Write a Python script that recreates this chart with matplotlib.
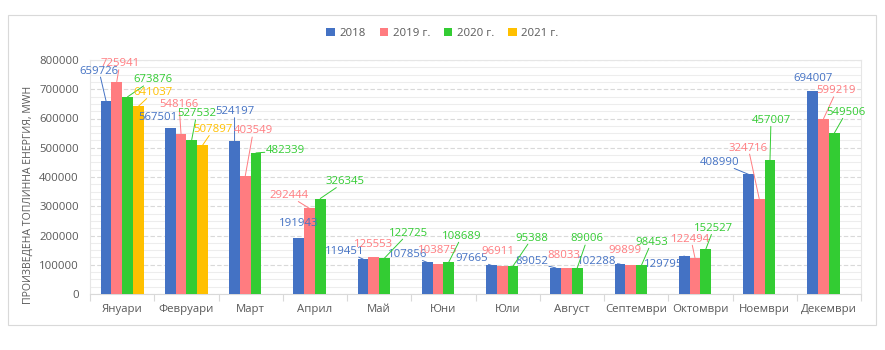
import numpy as np
import matplotlib
matplotlib.use('Agg')
import matplotlib.pyplot as plt
from matplotlib.patches import Rectangle
from matplotlib.ticker import MultipleLocator, FuncFormatter

plt.rcParams['font.family'] = ['Open Sans', 'DejaVu Sans']

# data
months = ['Януари', 'Февруари', 'Март', 'Април', 'Май', 'Юни', 'Юли',
          'Август', 'Септември', 'Октомври', 'Ноември', 'Декември']
v2018 = [659726, 567501, 524197, 191943, 119451, 107856, 97665, 89052,
         102288, 129795, 408990, 694007]
v2019 = [725941, 548166, 403549, 292444, 125553, 103875, 96911, 88033,
         99899, 122494, 324716, 599219]
v2020 = [673876, 527532, 482339, 326345, 122725, 108689, 95388, 89006,
         98453, 152527, 457007, 549506]
v2021 = [641037, 507897] + [np.nan] * 10
series_names = ['2018', '2019 г.', '2020 г.', '2021 г.']

# label placement (pixel offsets from bar top, like the manually moved excel labels)
off2018 = [(-7, 30), (-12, 11), (0, 29), (0, 14), (-18, 8), (-20, 8),
           (-20, 7), (-24, 6), (-23, 3), (-21, -8), (-29, 12), (0, 13)]
off2019 = [(3, 18), (-2, 29), (8, 45), (-21, 13), (0, 13), (0, 13),
           (-4, 14), (-3, 13), (-6, 14), (-4, 19), (-11, 51), (13, 28)]
off2020 = [(25, 17), (5, 26), (29, 2), (25, 17), (24, 25), (13, 26),
           (19, 28), (10, 29), (10, 23), (8, 21), (1, 40), (12, 21)]
off2021 = [(15, 14), (11, 16)] + [(0, 13)] * 10

colors = ['#4472C4', '#FF7C80', '#33CC33', '#FFC000']
grey = '#595959'
fs = 8.2

fig = plt.figure(figsize=(8.85, 3.5), dpi=100)
fig.add_artist(Rectangle((8 / 885, 25 / 350), 868 / 885, 310 / 350,
                         transform=fig.transFigure, fill=False,
                         ec='#D9D9D9', lw=0.8))
ax = fig.add_axes([90 / 885, 56 / 350, 771 / 885, 234 / 350])

x = np.arange(len(months))
w = 1 / 6
allvals = [v2018, v2019, v2020, v2021]
alloffs = [off2018, off2019, off2020, off2021]

for j, (name, vals, offs, c) in enumerate(zip(series_names, allvals, alloffs, colors)):
    pos = x + (j - 1.5) * w
    ax.bar(pos, vals, w, color=c, label=name, zorder=3)
    for i, v in enumerate(vals):
        if np.isnan(v):
            continue
        dx, dy = offs[i]
        arrow = None
        if np.hypot(dx, dy) > 17:
            arrow = dict(arrowstyle='-', color=c, lw=0.7, shrinkA=0, shrinkB=0)
        ax.annotate(str(int(v)), (pos[i], v), xytext=(dx, dy),
                    textcoords='offset pixels', ha='center', va='center',
                    fontsize=fs, color=c, zorder=5,
                    bbox=dict(boxstyle='square,pad=0.05', fc='none', ec='none'),
                    arrowprops=arrow)

ax.set_xlim(-0.5, 11.5)
ax.set_ylim(0, 800000)
ax.yaxis.set_major_locator(MultipleLocator(100000))
ax.yaxis.set_minor_locator(MultipleLocator(25000))
ax.yaxis.set_major_formatter(FuncFormatter(lambda v, p: f'{int(v)}'))
ax.grid(axis='y', which='major', color='#D9D9D9', lw=0.8, ls=(0, (4, 2)), zorder=0)
ax.grid(axis='y', which='minor', color='#EDEDED', lw=0.8, zorder=0)
ax.tick_params(axis='y', which='both', length=0, labelsize=fs, labelcolor=grey, pad=8)

ax.set_xticks(x, months)
ax.set_xticks(np.arange(-0.5, 12, 1), minor=True)
ax.tick_params(axis='x', which='major', length=0, labelsize=fs, labelcolor=grey, pad=7)
ax.tick_params(axis='x', which='minor', length=5, color='#D9D9D9', width=0.8)

for s in ax.spines.values():
    s.set_color('#E6E6E6')
    s.set_linewidth(0.8)
ax.spines['bottom'].set_color('#D9D9D9')

fig.text(28 / 885, 1 - 195 / 350, 'ПРОИЗВЕДЕНА ТОПЛИННА ЕНЕРГИЯ, MWH',
         rotation=90, ha='center', va='center', fontsize=7.6, color=grey)

fig.legend(loc='center', bbox_to_anchor=(0.5, 1 - 33.7 / 350), ncol=4,
           frameon=False, fontsize=fs, handlelength=0.75, handleheight=0.75,
           handletextpad=0.4, columnspacing=1.2, labelcolor=grey)

fig.savefig('out.png', dpi=100)
